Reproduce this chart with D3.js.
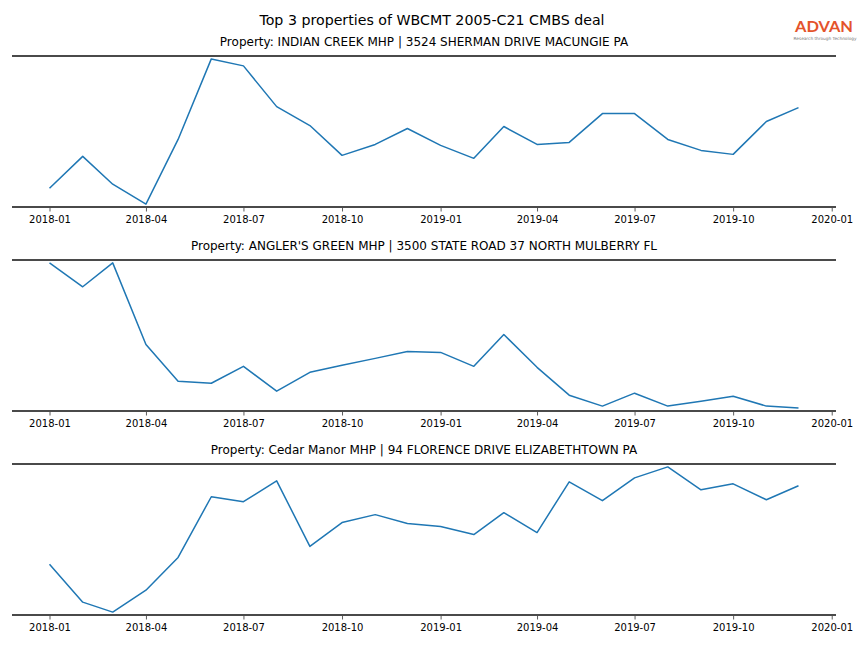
<!DOCTYPE html>
<html><head><meta charset="utf-8">
<script src="https://cdn.jsdelivr.net/npm/d3@7"></script>
<style>body{margin:0;background:#fff}svg{display:block;font-family:"DejaVu Sans",sans-serif}</style>
</head><body>
<svg id="c" width="864" height="648"></svg>
<script>
const months = ["2018-01","2018-02","2018-03","2018-04","2018-05","2018-06","2018-07","2018-08","2018-09","2018-10","2018-11","2018-12",
"2019-01","2019-02","2019-03","2019-04","2019-05","2019-06","2019-07","2019-08","2019-09","2019-10","2019-11","2019-12"];
const tickLabels = ["2018-01","2018-04","2018-07","2018-10","2019-01","2019-04","2019-07","2019-10","2020-01"];
const titles = [
 "Property: INDIAN CREEK MHP | 3524 SHERMAN DRIVE MACUNGIE PA",
 "Property: ANGLER'S GREEN MHP | 3500 STATE ROAD 37 NORTH MULBERRY FL",
 "Property: Cedar Manor MHP | 94 FLORENCE DRIVE ELIZABETHTOWN PA"];
const indianCreek = [18,50,22,2,67,148,141,100,81,51,62,78,61,48,80,62,64,93,93,67,56,52,85,99];
const anglersGreen = [147,123,147,65,28,26,43,18,37,44,51,58,57,43,75,42,14,3,16,3,8,13,3,1];
const cedarManor = [50,12,2,24,57,118,113,134,68,92,100,91,88,80,102,82,133,114,137,148,125,131,115,129];
const series = [indianCreek, anglersGreen, cedarManor];
const mainTitle = "Top 3 properties of WBCMT 2005-C21 CMBS deal";

const svg = d3.select("#c");
const parse = d3.timeParse("%Y-%m");
const dates = months.map(parse);
const x = d3.scaleTime()
  .domain([d3.timeDay.offset(dates[0], -35), d3.timeDay.offset(dates[dates.length-1], 35)])
  .range([12, 836]);

svg.append("text").attr("x", 432).attr("y", 24.7).attr("text-anchor","middle")
  .attr("font-size", 14.2).attr("fill","#000").text(mainTitle);

// logo
svg.append("text").attr("x", 824).attr("y", 31.5).attr("text-anchor","middle")
  .attr("font-size", 16).attr("font-family","Lato, 'DejaVu Sans', sans-serif").attr("font-weight","bold")
  .attr("fill","#e4532b").attr("textLength", 58).attr("lengthAdjust","spacingAndGlyphs").text("ADVAN");
svg.append("text").attr("x", 825).attr("y", 40).attr("text-anchor","middle")
  .attr("font-size", 4.3).attr("fill","#777").attr("textLength", 63).attr("lengthAdjust","spacingAndGlyphs")
  .text("Research through Technology");

const tops = [56, 260, 464];
const H = 151;
tops.forEach((top, i) => {
  const vals = series[i];
  const [mn, mx] = d3.extent(vals);
  const pad = (mx - mn) * 0.02;
  const y = d3.scaleLinear().domain([mn - pad, mx + pad]).range([top + H, top]);
  const g = svg.append("g");
  g.append("text").attr("x", 424).attr("y", top - 10).attr("text-anchor","middle")
    .attr("font-size", 12).attr("fill","#000").text(titles[i]);
  const line = d3.line().x((d, j) => x(dates[j])).y(d => y(d));
  g.append("path").datum(vals).attr("d", line).attr("fill","none")
    .attr("stroke","#1f77b4").attr("stroke-width",1.5).attr("stroke-linejoin","round");
  // spines
  [top, top + H].forEach(yy => g.append("line").attr("x1",12).attr("x2",836)
    .attr("y1",yy).attr("y2",yy).attr("stroke","#4a4a4a").attr("stroke-width",2));
  const ax = g.append("g").attr("transform", `translate(0,${top + H + 1})`)
    .call(d3.axisBottom(x).tickValues(tickLabels.map(parse)).tickFormat(d3.timeFormat("%Y-%m")).tickSize(3.5).tickPadding(4));
  ax.select(".domain").remove();
  ax.selectAll("line").attr("stroke","#333").attr("stroke-width",0.8);
  ax.selectAll("text").attr("font-size",10).attr("fill","#000").attr("font-family","DejaVu Sans, sans-serif");
});
</script>
</body></html>
